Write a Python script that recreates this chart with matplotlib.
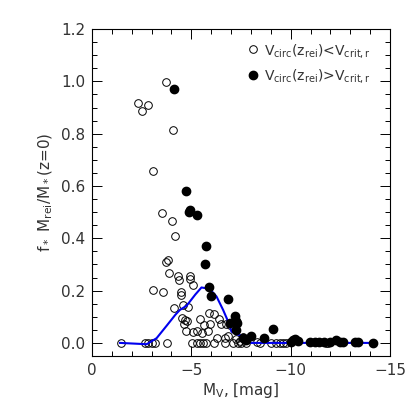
import matplotlib
matplotlib.use("Agg")
import matplotlib.pyplot as plt
from matplotlib.ticker import MultipleLocator, FormatStrFormatter

# Open circles: Vcirc(z_rei) < Vcrit,r
open_x = [-1.46, -2.31, -2.53, -2.80, -3.72, -4.07, -3.05, -3.52, -4.04, -4.20,
          -3.83, -3.72, -3.89, -4.31, -4.36, -4.92, -4.92, -5.09, -3.08, -3.55,
          -4.49, -4.46, -4.56, -4.15, -4.81, -4.51, -4.67, -4.79, -4.62, -5.43,
          -5.89, -6.13, -6.37, -5.96, -6.48, -5.63, -6.93, -6.73, -4.71, -5.09,
          -5.26, -5.56, -5.84, -6.27, -6.68, -6.85, -7.27, -7.60,
          -2.66, -2.83, -3.00, -3.17, -3.75, -5.01, -5.26, -5.43, -5.59, -5.76,
          -6.13, -6.68, -7.10, -7.35, -7.52, -7.77, -7.44, -8.28, -8.44, -9.03,
          -9.28, -9.45, -9.61, -9.78, -11.79, -11.87]
open_y = [0.000, 0.918, 0.886, 0.908, 0.997, 0.813, 0.659, 0.495, 0.465, 0.407,
          0.318, 0.310, 0.269, 0.254, 0.239, 0.254, 0.244, 0.223, 0.203, 0.193,
          0.193, 0.183, 0.146, 0.133, 0.137, 0.095, 0.088, 0.082, 0.073, 0.092,
          0.114, 0.111, 0.091, 0.073, 0.073, 0.069, 0.069, 0.073, 0.046, 0.043,
          0.046, 0.037, 0.046, 0.018, 0.018, 0.027, 0.014, 0.024,
          0.000, 0.000, 0.000, 0.000, 0.000, 0.000, 0.000, 0.000, 0.000, 0.000,
          0.000, 0.000, 0.000, 0.000, 0.000, 0.000, 0.009, 0.002, 0.000, 0.000,
          0.000, 0.000, 0.000, 0.000, 0.000, 0.000]

# Filled circles: Vcirc(z_rei) > Vcrit,r
fill_x = [-4.15, -4.74, -4.94, -4.89, -5.29, -5.76, -5.71, -5.88, -6.01, -6.82,
          -7.22, -7.27, -7.32, -6.93, -7.27, -7.60, -7.74, -8.02, -8.66, -9.11,
          -10.04, -10.12, -10.20, -10.35, -10.95, -11.20, -11.45, -11.70, -11.96,
          -12.26, -12.46, -12.63, -13.22, -13.38, -14.14]
fill_y = [0.972, 0.580, 0.507, 0.499, 0.490, 0.372, 0.300, 0.213, 0.180, 0.167,
          0.101, 0.085, 0.078, 0.078, 0.050, 0.018, 0.011, 0.027, 0.018, 0.052,
          0.005, 0.011, 0.014, 0.008, 0.004, 0.004, 0.004, 0.004, 0.004,
          0.011, 0.003, 0.003, 0.003, 0.003, 0.000]

# Blue running mean curve
line_x = [-1.41, -2.75, -3.25, -3.75, -4.20, -4.42, -4.76, -5.20, -5.51, -5.80,
          -6.00, -6.27, -6.60, -6.85, -7.02, -7.27, -7.52, -7.85, -8.00, -14.14]
line_y = [0.000, -0.005, 0.018, 0.065, 0.108, 0.126, 0.142, 0.185, 0.212, 0.208,
          0.200, 0.177, 0.126, 0.082, 0.043, 0.034, 0.027, 0.011, 0.000, 0.000]

TXT = '#333333'
fig = plt.figure(figsize=(4.15, 4.15), dpi=100)
ax = fig.add_axes([0.2217, 0.1422, 0.7181, 0.7878])

ax.plot(line_x, line_y, color='#0000ee', lw=1.5, zorder=3)
ax.plot(open_x, open_y, 'o', mfc='none', mec='black', mew=0.7, ms=5.5,
        ls='none', zorder=2, label=r'V$_{\rm circ}$(z$_{\rm rei}$)<V$_{\rm crit,r}$')
ax.plot(fill_x, fill_y, 'o', mfc='black', mec='black', ms=6,
        ls='none', zorder=4, label=r'V$_{\rm circ}$(z$_{\rm rei}$)>V$_{\rm crit,r}$')

ax.set_xlim(0, -15)
ax.set_ylim(-0.05, 1.2)
ax.xaxis.set_major_locator(MultipleLocator(5))
ax.xaxis.set_minor_locator(MultipleLocator(1))
ax.yaxis.set_major_locator(MultipleLocator(0.2))
ax.yaxis.set_minor_locator(MultipleLocator(0.05))
ax.yaxis.set_major_formatter(FormatStrFormatter('%.1f'))
ax.tick_params(which='both', direction='in', top=True, right=True,
               labelsize=11, labelcolor=TXT, width=0.7)
ax.tick_params(which='major', length=7, pad=5)
ax.tick_params(which='minor', length=3.5)
for s in ax.spines.values():
    s.set_linewidth(0.8)

ax.set_xlabel(r'M$_{\rm V}$, [mag]', fontsize=11, color=TXT, labelpad=2)
ax.set_ylabel(r'f$_*$ M$_{\rm rei}$/M$_*$(z=0)', fontsize=11, color=TXT, labelpad=4)

leg = ax.legend(loc='upper right', frameon=False, fontsize=10, handletextpad=0.3,
                handlelength=1.0, borderaxespad=0.5, labelspacing=0.55,
                markerscale=1.0, bbox_to_anchor=(0.977, 1.0))
for t in leg.get_texts():
    t.set_color(TXT)

fig.savefig('out.png', dpi=100)
